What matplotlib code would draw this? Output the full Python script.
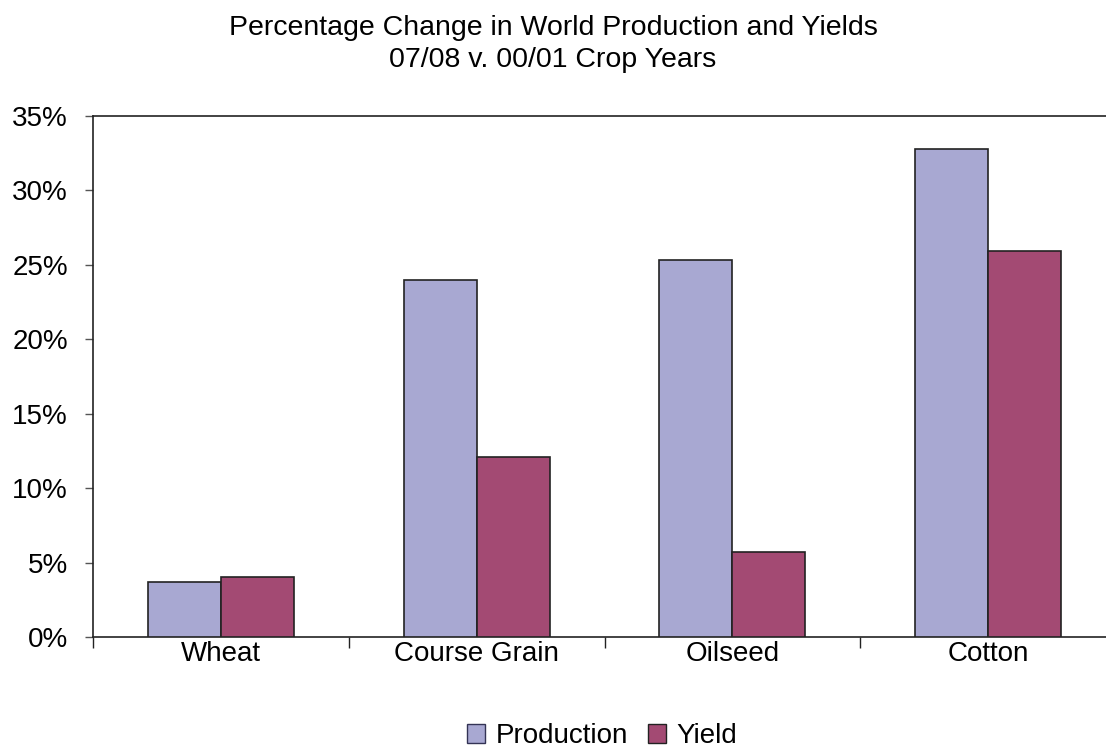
import matplotlib
matplotlib.use("Agg")
import matplotlib.pyplot as plt
import numpy as np
from matplotlib.ticker import FuncFormatter, FixedLocator
from matplotlib.patches import Patch

plt.rcParams['font.family'] = ['Liberation Sans', 'DejaVu Sans']

categories = ["Wheat", "Course Grain", "Oilseed", "Cotton"]
production = [3.7, 24.0, 25.3, 32.8]
yield_pct = [4.0, 12.1, 5.7, 25.9]
series_names = ["Production", "Yield"]
y_ticks = [0, 5, 10, 15, 20, 25, 30, 35]

prod_color = "#A8A8D2"
yield_color = "#A34A73"

fig = plt.figure(figsize=(11.06, 7.49), dpi=100)
ax = fig.add_axes([93 / 1106, 112 / 749, 1023 / 1106, 521 / 749])

x = np.arange(len(categories))
w = 0.285
ax.bar(x - w / 2, production, width=w, color=prod_color, edgecolor="#222222",
       linewidth=1.2, label=series_names[0], zorder=3)
ax.bar(x + w / 2, yield_pct, width=w, color=yield_color, edgecolor="#222222",
       linewidth=1.2, label=series_names[1], zorder=3)

ax.set_xlim(-0.5, len(categories) - 0.5)
ax.set_ylim(0, 35)
ax.set_yticks(y_ticks)
ax.yaxis.set_major_formatter(FuncFormatter(lambda v, p: f"{int(v)}%"))
ax.tick_params(axis="y", labelsize=20, length=6, width=1, pad=12, color="#555555")

ax.set_xticks(x)
ax.set_xticklabels(categories)
ax.tick_params(axis="x", which="major", length=0, labelsize=20, pad=3)
ax.xaxis.set_minor_locator(FixedLocator(np.arange(-0.5, len(categories), 1.0)))
ax.tick_params(axis="x", which="minor", length=8, width=1, color="#222222")

for s in ax.spines.values():
    s.set_color("#222222")
    s.set_linewidth(1.2)

fig.text(0.5, 1 - 28 / 749, "Percentage Change in World Production and Yields",
         ha="center", va="center", fontsize=20.5)
fig.text(0.5, 1 - 60 / 749, "07/08 v. 00/01 Crop Years",
         ha="center", va="center", fontsize=20.5)

handles = [Patch(facecolor=prod_color, edgecolor="#333355", label=series_names[0]),
           Patch(facecolor=yield_color, edgecolor="#222222", label=series_names[1])]
fig.legend(handles=handles, loc="center", bbox_to_anchor=(602 / 1106, 1 - 736 / 749),
           ncol=2, frameon=False, fontsize=20, handlelength=0.65, handleheight=0.65,
           handletextpad=0.36, columnspacing=0.72, borderpad=0, borderaxespad=0)

fig.savefig("out.png", dpi=100)
